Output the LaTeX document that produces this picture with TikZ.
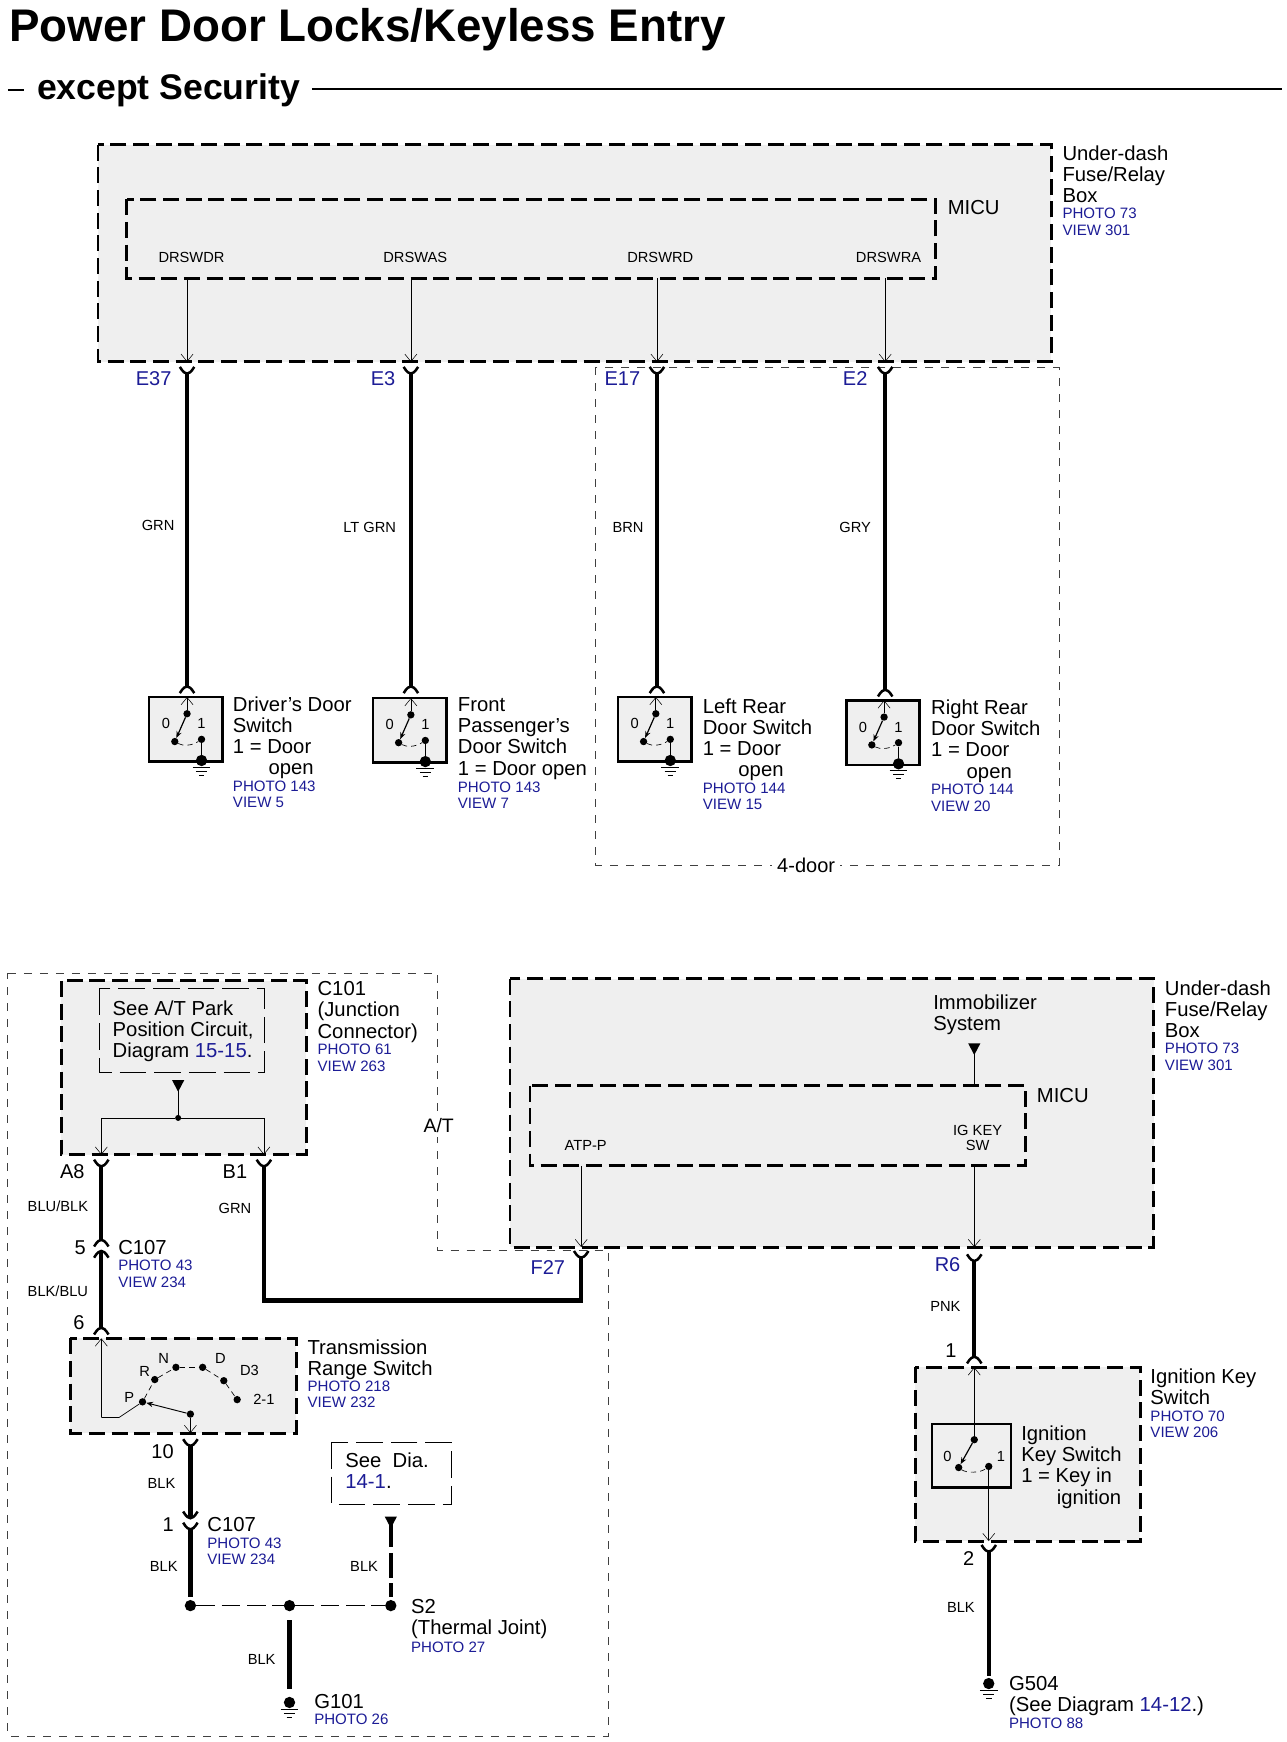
\documentclass[tikz,border=0pt]{standalone}
\usepackage{fontspec}
\setmainfont{Liberation Sans}
\usetikzlibrary{arrows.meta}
\definecolor{refblue}{HTML}{1C1C96}
\definecolor{boxgray}{HTML}{EFEFEF}
\newcommand{\rb}[1]{{\color{refblue}#1}}
\tikzset{
  x=0.83505pt,y=-0.83505pt,
  mainbox/.style={draw=black,fill=boxgray,line width=2.2pt,dash pattern=on 12pt off 5pt},
  innerbox/.style={draw=black,line width=2.2pt,dash pattern=on 12pt off 5pt},
  scope thin/.style={draw=black!75,line width=0.45pt,dash pattern=on 6pt off 6pt},
  notebox/.style={draw=black,line width=0.5pt,dash pattern=on 20pt off 6pt},
  thinwire/.style={draw=black,line width=0.5pt},
  pinwire/.style={thinwire,-{Straight Barb[length=5.5pt,width=9pt,line width=0.4pt]}},
  harness/.style={draw=black,line width=3.2pt},
  cup/.style={draw=black,line width=1.9pt},
  maintext/.style={anchor=north west,inner sep=0pt,align=left,text=black,
    font=\fontsize{15.2}{15.87}\selectfont,yshift=5.6pt,execute at begin node={\rule{0pt}{11pt}}},
  reftext/.style={anchor=north west,inner sep=0pt,align=left,text=refblue,
    font=\fontsize{11.3}{12.5}\selectfont,yshift=4.4pt,execute at begin node={\rule{0pt}{8.5pt}}},
  pinname/.style={inner sep=0pt,text=refblue,font=\fontsize{15}{16}\selectfont},
  pinnum/.style={inner sep=0pt,text=black,font=\fontsize{15}{16}\selectfont},
  wirecolor/.style={inner sep=0pt,text=black,font=\fontsize{11}{12}\selectfont},
  signal/.style={inner sep=0pt,text=black,align=center,font=\fontsize{11}{12.5}\selectfont},
  dot/.style={circle,fill=black,inner sep=0pt,minimum size=5.5pt},
  bigdot/.style={circle,fill=black,inner sep=0pt,minimum size=8.5pt},
  forkup/.pic={\draw[cup] (-6.5,-5.5) .. controls (-3.5,-0.5) and (-1.5,0.5) .. (0,0.5) .. controls (1.5,0.5) and (3.5,-0.5) .. (6.5,-5.5);},
  capdown/.pic={\draw[cup] (-6.5,5.5) .. controls (-3.5,0.5) and (-1.5,-0.5) .. (0,-0.5) .. controls (1.5,-0.5) and (3.5,0.5) .. (6.5,5.5);},
  tridown/.pic={\fill[black] (-5.5,-5) -- (5.5,-5) -- (0,5.5) -- cycle;},
  earth/.pic={\draw[line width=0.6pt] (-8,0) -- (8,0) (-5,3.5) -- (5,3.5) (-2.5,7) -- (2.5,7);},
  doorswitch/.pic={
    \fill[boxgray] (0,0) rectangle (66,58);
    \draw[line width=1.9pt] (0,0) rectangle (66,58);
    \node[dot] (pivot) at (34,15) {};
    \node[dot] (open) at (23,40) {};
    \node[dot] (closed) at (47,38) {};
    \node[bigdot] (gnd) at (47,57) {};
    \coordinate (top) at (34,0);
    \node[signal] (zero) at (15,24) {0};
    \node[signal] (one) at (47,24) {1};
    \draw[thinwire,-{Straight Barb[length=5.5pt,width=9pt,line width=0.4pt]}] (pivot) -- (top);
    \draw[line width=0.9pt,-{Stealth[length=5pt,width=4pt]}] (pivot) -- (open);
    \draw[thinwire,dash pattern=on 4pt off 3pt] (open) .. controls (30,44) and (38,44) .. (closed);
    \draw[line width=0.9pt] (closed) -- (gnd);
    \pic at (47,63) {earth};
  }
}
\begin{document}
\begin{tikzpicture}
\useasboundingbox (0,0) rectangle (1155,1564.5);
\fill[white] (0,0) rectangle (1155,1564.5);

% ---------- heading ----------
\node[anchor=west,inner sep=0pt,font=\bfseries\fontsize{34.3}{36}\selectfont] (title) at (8,27) {Power Door Locks/Keyless Entry};
\node[anchor=west,inner sep=0pt,font=\bfseries\fontsize{26.7}{29}\selectfont] (subtitle) at (33,81) {except Security};
\coordinate (dashA) at (7,81); \coordinate (dashB) at (22,81);
\coordinate (ruleA) at (280,80); \coordinate (ruleB) at (1151,80);
\draw[line width=1.5pt] (dashA) -- (dashB);
\draw[line width=1.5pt] (ruleA) -- (ruleB);

% ---------- 4-door and A/T scopes ----------
\draw[scope thin] (535,330) rectangle (951,777);
\node[inner sep=4pt,fill=white,font=\fontsize{15}{16}\selectfont] (fourdoor) at (724,777) {4-door};
\draw[scope thin] (7,874) -- (393,874) -- (393,1123) -- (546,1123) -- (546,1559) -- (7,1559) -- cycle;
\node[inner sep=3pt,fill=white,font=\fontsize{14.6}{15}\selectfont] (atlabel) at (394,1011) {A/T};

% ---------- upper fuse/relay box ----------
\draw[mainbox] (88,130) rectangle (944,325);
\draw[innerbox] (114,179) rectangle (840,250);
\node[maintext] (ufb) at (954,137) {Under-dash\\Fuse/Relay\\Box};
\node[reftext] (ufbref) at (954,192) {PHOTO 73\\VIEW 301};
\node[maintext] (micu1) at (851,186) {MICU};
\node[signal] (drswdr) at (172,231) {DRSWDR};
\node[signal] (drswas) at (373,231) {DRSWAS};
\node[signal] (drswrd) at (593,231) {DRSWRD};
\node[signal] (drswra) at (798,231) {DRSWRA};
\foreach \n/\x in {a/168,b/369,c/590,d/795}{
  \coordinate (in\n) at (\x,250);
  \coordinate (out\n) at (\x,325);
  \coordinate (wt\n) at (\x,335);
  \draw[pinwire] (in\n) -- (out\n);
  \pic at (wt\n) {forkup};
}
\node[pinname] (e37) at (138,340) {E37};
\node[pinname] (e3) at (344,340) {E3};
\node[pinname] (e17) at (559,340) {E17};
\node[pinname] (e2) at (768,340) {E2};
\node[wirecolor] (cgrn) at (142,472) {GRN};
\node[wirecolor] (cltgrn) at (332,474) {LT GRN};
\node[wirecolor] (cbrn) at (564,474) {BRN};
\node[wirecolor] (cgry) at (768,474) {GRY};

% ---------- door switches ----------
\pic (drv) at (134,626) {doorswitch};
\pic (fps) at (335,627) {doorswitch};
\pic (lrd) at (555,626) {doorswitch};
\pic (rrd) at (760,629) {doorswitch};
\coordinate (wba) at (168,617); \coordinate (wbb) at (369,617);
\coordinate (wbc) at (590,617); \coordinate (wbd) at (795,620);
\foreach \n in {a,b,c,d}{
  \draw[harness] (wt\n) -- (wb\n);
  \pic at (wb\n) {capdown};
}
\node[maintext] (drvt) at (209,632) {Driver's Door\\Switch\\1 = Door\\\hspace*{26.7pt}open};
\node[reftext] (drvr) at (209,706) {PHOTO 143\\VIEW 5};
\node[maintext] (fpst) at (411,633) {Front\\Passenger's\\Door Switch\\1 = Door open};
\node[reftext] (fpsr) at (411,707) {PHOTO 143\\VIEW 7};
\node[maintext] (lrdt) at (631,634) {Left Rear\\Door Switch\\1 = Door\\\hspace*{26.7pt}open};
\node[reftext] (lrdr) at (631,708) {PHOTO 144\\VIEW 15};
\node[maintext] (rrdt) at (836,635) {Right Rear\\Door Switch\\1 = Door\\\hspace*{26.7pt}open};
\node[reftext] (rrdr) at (836,709) {PHOTO 144\\VIEW 20};

% ---------- C101 ----------
\draw[mainbox] (55,881) rectangle (275,1037);
\draw[notebox] (89,888) rectangle (237,963);
\node[maintext] (seeat) at (101,905) {See A/T Park\\Position Circuit,\\Diagram \rb{15-15}.};
\coordinate (tri1) at (160,975);
\pic at (tri1) {tridown};
\node[dot,minimum size=4.5pt] (jct) at (160,1004) {};
\coordinate (a8in) at (91,1037); \coordinate (b1in) at (237,1037);
\draw[thinwire] (tri1) -- (jct);
\draw[pinwire] (jct) -| (a8in);
\draw[pinwire] (jct) -| (b1in);
\node[maintext] (c101t) at (285,888) {C101\\(Junction\\Connector)};
\node[reftext] (c101r) at (285,943) {PHOTO 61\\VIEW 263};
\node[pinnum] (a8) at (65,1052) {A8};
\node[pinnum] (b1) at (211,1052) {B1};
\coordinate (a8w) at (91,1047); \coordinate (b1w) at (237,1047);
\coordinate (c5a) at (91,1114); \coordinate (c5b) at (91,1124); \coordinate (sixw) at (91,1193);
\pic at (a8w) {forkup};
\pic at (b1w) {forkup};
\draw[harness] (a8w) -- (c5a);
\pic at (c5a) {capdown};
\draw[harness] (c5b) -- (sixw);
\pic at (c5b) {capdown};
\pic at (sixw) {capdown};
\node[wirecolor] (cblublk) at (52,1083) {BLU/BLK};
\node[wirecolor] (cgrn2) at (211,1085) {GRN};
\node[pinnum] (p5) at (72,1121) {5};
\node[maintext] (c107a) at (106,1120) {C107};
\node[reftext] (c107ar) at (106,1137) {PHOTO 43\\VIEW 234};
\node[wirecolor] (cblkblu) at (52,1160) {BLK/BLU};
\node[pinnum] (p6) at (71,1188) {6};

% ---------- lower fuse/relay box ----------
\draw[mainbox] (458,879) rectangle (1036,1120);
\draw[innerbox] (476,975) rectangle (921,1047);
\node[maintext] (immo) at (838,900) {Immobilizer\\System};
\coordinate (tri2) at (875,942);
\coordinate (micuTop) at (875,975);
\pic at (tri2) {tridown};
\draw[thinwire] (tri2) -- (micuTop);
\node[maintext] (micu2) at (931,983) {MICU};
\node[signal] (atpp) at (526,1029) {ATP-P};
\node[signal,font=\fontsize{11}{11.7}\selectfont] (igkey) at (878,1022) {IG KEY\\SW};
\node[maintext] (lfb) at (1046,887) {Under-dash\\Fuse/Relay\\Box};
\node[reftext] (lfbref) at (1046,942) {PHOTO 73\\VIEW 301};
\coordinate (atpIn) at (522,1047); \coordinate (atpOut) at (522,1120);
\coordinate (igIn) at (875,1047); \coordinate (igOut) at (875,1120);
\draw[pinwire] (atpIn) -- (atpOut);
\draw[pinwire] (igIn) -- (igOut);
\node[pinname] (f27) at (492,1138) {F27};
\node[pinname] (r6) at (851,1136) {R6};
\coordinate (f27w) at (522,1129);
\coordinate (r6w) at (875,1132); \coordinate (k1w) at (875,1219);
\pic at (f27w) {forkup};
\pic at (r6w) {forkup};
\draw[harness,line join=miter] (f27w) -- (522,1168) -- (237,1168) -- (b1w);
\draw[harness] (r6w) -- (k1w);
\pic at (k1w) {capdown};
\node[wirecolor] (cpnk) at (849,1173) {PNK};
\node[pinnum] (k1) at (854,1213) {1};

% ---------- ignition key switch ----------
\draw[mainbox] (822,1228) rectangle (1024,1384);
\draw[line width=1.9pt] (837,1279) rectangle (908,1336);
\node[dot] (ikpivot) at (875,1293) {};
\node[dot] (ikopen) at (861,1318) {};
\node[dot] (ikclosed) at (888,1317) {};
\coordinate (ikTop) at (875,1228); \coordinate (ikBot) at (888,1384);
\draw[thinwire,-{Straight Barb[length=5.5pt,width=9pt,line width=0.4pt]}] (ikpivot) -- (ikTop);
\draw[line width=0.9pt,-{Stealth[length=5pt,width=4pt]}] (ikpivot) -- (ikopen);
\draw[thinwire,dash pattern=on 4pt off 3pt] (ikopen) .. controls (868,1323) and (880,1323) .. (ikclosed);
\draw[pinwire] (ikclosed) -- (ikBot);
\node[signal] (ik0) at (851,1308) {0};
\node[signal] (ik1) at (899,1308) {1};
\node[maintext] (ikin) at (917,1287) {Ignition\\Key Switch\\1 = Key in\\\hspace*{26.7pt}ignition};
\node[maintext] (ikt) at (1033,1236) {Ignition Key\\Switch};
\node[reftext] (ikr) at (1033,1272) {PHOTO 70\\VIEW 206};
\coordinate (k2w) at (888,1393);
\node[bigdot] (g504) at (888,1512) {};
\coordinate (g504w) at (888,1505);
\pic at (k2w) {forkup};
\draw[harness] (k2w) -- (g504w);
\pic at (888,1518) {earth};
\node[pinnum] (k2) at (870,1400) {2};
\node[wirecolor] (cblk5) at (863,1444) {BLK};
\node[maintext] (g504t) at (906,1512) {G504\\(See Diagram \rb{14-12}.)};
\node[reftext] (g504r) at (906,1547) {PHOTO 88};

% ---------- transmission range switch ----------
\draw[mainbox] (63,1202) rectangle (266,1287);
\node[dot] (dP) at (128,1259) {};
\node[dot] (dR) at (139,1239) {};
\node[dot] (dN) at (158,1228) {};
\node[dot] (dD) at (182,1228) {};
\node[dot] (dDt) at (201,1240) {};
\node[dot] (d21) at (213,1257) {};
\node[dot] (dC) at (171,1270) {};
\coordinate (trTop) at (91,1202); \coordinate (trBot) at (171,1287);
\coordinate (trL) at (91,1273); \coordinate (trM) at (107,1273);
\draw[thinwire,dash pattern=on 4pt off 3pt] (dP) -- (dR) -- (dN);
\draw[thinwire,dash pattern=on 4pt off 3pt] (dN) -- (dD);
\draw[thinwire,dash pattern=on 4pt off 3pt] (dD) -- (dDt) -- (d21);
\draw[thinwire] (dP) -- (trM) -- (trL);
\draw[pinwire] (trL) -- (trTop);
\draw[line width=0.7pt,-{Stealth[length=5pt,width=4pt]}] (dC) -- (dP);
\draw[pinwire] (dC) -- (trBot);
\node[signal] (lP) at (116,1255) {P};
\node[signal] (lR) at (130,1232) {R};
\node[signal] (lN) at (147,1220) {N};
\node[signal] (lD) at (198,1220) {D};
\node[signal] (lD3) at (224,1231) {D3};
\node[signal] (l21) at (237,1257) {2-1};
\node[maintext] (trt) at (276,1210) {Transmission\\Range Switch};
\node[reftext] (trr) at (276,1245) {PHOTO 218\\VIEW 232};

% ---------- grounds ----------
\node[pinnum] (p10) at (146,1304) {10};
\coordinate (tenw) at (171,1298); \coordinate (c1a) at (171,1363); \coordinate (c1b) at (171,1373);
\pic at (tenw) {forkup};
\draw[harness] (tenw) -- (c1a);
\pic at (c1a) {forkup};
\pic at (c1b) {forkup};
\node[bigdot] (j1) at (171,1442) {};
\node[bigdot] (j2) at (260,1442) {};
\node[bigdot] (j3) at (351,1442) {};
\coordinate (j1w) at (171,1434); \coordinate (j3w) at (351,1434);
\draw[harness] (c1b) -- (j1w);
\draw[thinwire,dash pattern=on 14pt off 5pt] (j1) -- (j2);
\draw[thinwire,dash pattern=on 14pt off 5pt] (j2) -- (j3);
\node[wirecolor] (cblk1) at (145,1332) {BLK};
\node[wirecolor] (cblk2) at (147,1407) {BLK};
\node[pinnum] (p1) at (151,1369) {1};
\node[maintext] (c107b) at (186,1369) {C107};
\node[reftext] (c107br) at (186,1386) {PHOTO 43\\VIEW 234};
\draw[notebox] (298,1295) rectangle (405,1351);
\node[maintext] (seedia) at (310,1311) {See\ \ Dia.\\\rb{14-1}.};
\coordinate (tri3) at (351,1367);
\pic at (tri3) {tridown};
\draw[harness,dash pattern=on 19pt off 4pt] (tri3) -- (j3w);
\node[wirecolor] (cblk3) at (327,1407) {BLK};
\node[maintext] (s2t) at (369,1443) {S2\\(Thermal Joint)};
\node[reftext] (s2r) at (369,1479) {PHOTO 27};
\coordinate (g101w) at (260,1517);
\coordinate (j2w) at (260,1455);
\node[bigdot] (g101) at (260,1529) {};
\draw[harness] (j2w) -- (g101w);
\pic at (260,1535) {earth};
\node[wirecolor] (cblk4) at (235,1490) {BLK};
\node[maintext] (g101t) at (282,1528) {G101};
\node[reftext] (g101r) at (282,1544) {PHOTO 26};
\end{tikzpicture}
\end{document}
